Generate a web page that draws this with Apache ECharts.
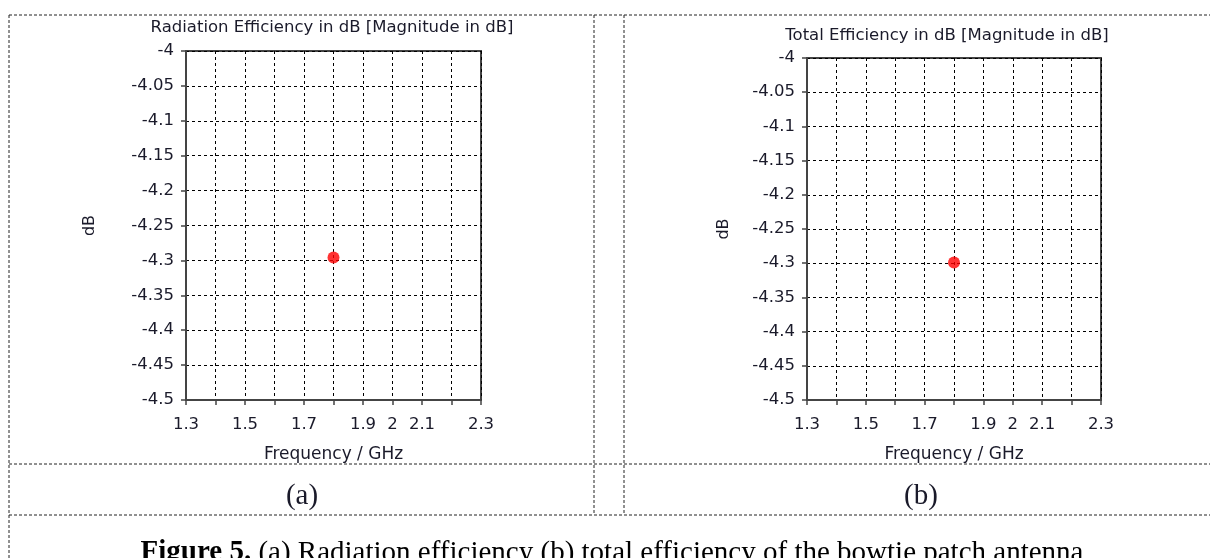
<!DOCTYPE html>
<html>
<head>
<meta charset="utf-8">
<script src="https://cdn.jsdelivr.net/npm/echarts@6/dist/echarts.min.js"></script>
<style>
html,body{margin:0;padding:0;background:#fff;}
#chart{width:1210px;height:558px;}
</style>
</head>
<body>
<div id="chart"></div>
<script>
// ---- data ----
const freqA = [1.8];
const radEffA = [-4.296];
const freqB = [1.8];
const totEffB = [-4.299];
const xTickLabels = ['1.3', '1.5', '1.7', '1.9', '2', '2.1', '2.3'];
const titleA = 'Radiation Efficiency in dB [Magnitude in dB]';
const titleB = 'Total Efficiency in dB [Magnitude in dB]';
const xName = 'Frequency / GHz';
const yName = 'dB';
const subA = '(a)';
const subB = '(b)';
const captionBold = 'Figure 5.';
const captionRest = ' (a) Radiation efficiency (b) total efficiency of the bowtie patch antenna';

const FONT = 'DejaVu Sans';
const TXT = '#1a1a2a';

function xAxisCfg(idx) {
  return {
    type: 'value', gridIndex: idx, min: 1.3, max: 2.3, interval: 0.1,
    name: xName, nameLocation: 'middle', nameGap: 46,
    nameTextStyle: { fontFamily: FONT, fontSize: 17, color: TXT },
    axisLine: { show: true, onZero: false, lineStyle: { color: '#444', width: 2 } },
    axisTick: { show: true, length: 5, lineStyle: { color: '#444', width: 1.5 } },
    axisLabel: {
      fontFamily: FONT, fontSize: 16.5, color: TXT, margin: 16, showMinLabel: true, showMaxLabel: true,
      formatter: function (v) {
        const s = String(Math.round(v * 10) / 10);
        return xTickLabels.indexOf(s) >= 0 ? s : '';
      }
    },
    splitLine: { show: true, lineStyle: { color: '#000', width: 1, type: [3, 3] } }
  };
}
function yAxisCfg(idx, gap) {
  return {
    type: 'value', gridIndex: idx, min: -4.5, max: -4, interval: 0.05,
    name: yName, nameLocation: 'middle', nameGap: gap, nameRotate: 90,
    nameTextStyle: { fontFamily: FONT, fontSize: 16, color: TXT },
    axisLine: { show: true, onZero: false, lineStyle: { color: '#444', width: 2 } },
    axisTick: { show: true, length: 5, lineStyle: { color: '#444', width: 1.5 } },
    axisLabel: {
      fontFamily: FONT, fontSize: 16.5, color: TXT, margin: 12,
      formatter: function (v) { return String(Math.round(v * 100) / 100); }
    },
    splitLine: { show: true, lineStyle: { color: '#000', width: 1, type: [3, 3] } }
  };
}

function dline(x1, y1, x2, y2) {
  return { type: 'line', silent: true, shape: { x1: x1, y1: y1, x2: x2, y2: y2 },
    style: { stroke: '#222', lineWidth: 1, lineDash: [3, 2] } };
}
function txt(x, y, t, font, size) {
  return { type: 'text', x: x, y: y, silent: true,
    style: { text: t, fontFamily: font, fontSize: size, fill: TXT, align: 'center', verticalAlign: 'middle' } };
}

const chart = echarts.init(document.getElementById('chart'), null, { renderer: 'canvas' });
chart.setOption({
  animation: false,
  backgroundColor: '#fff',
  grid: [
    { left: 186, top: 51, width: 295, height: 349, show: true, borderColor: '#444', borderWidth: 2, backgroundColor: 'transparent' },
    { left: 807, top: 58, width: 294, height: 342, show: true, borderColor: '#444', borderWidth: 2, backgroundColor: 'transparent' }
  ],
  xAxis: [xAxisCfg(0), xAxisCfg(1)],
  yAxis: [yAxisCfg(0, 88), yAxisCfg(1, 75)],
  series: [
    { type: 'scatter', xAxisIndex: 0, yAxisIndex: 0, symbolSize: 12, itemStyle: { color: '#ff0000' },
      data: freqA.map((f, i) => [f, radEffA[i]]) },
    { type: 'scatter', xAxisIndex: 1, yAxisIndex: 1, symbolSize: 12, itemStyle: { color: '#ff0000' },
      data: freqB.map((f, i) => [f, totEffB[i]]) }
  ],
  graphic: [
    dline(9, 15, 1210, 15),
    dline(9, 15, 9, 558),
    dline(594, 15, 594, 515),
    dline(624, 15, 624, 515),
    dline(9, 464, 1210, 464),
    dline(9, 515, 1210, 515),
    txt(332, 28, titleA, FONT, 16.5),
    txt(947, 36, titleB, FONT, 16.5),
    txt(302, 496, subA, 'Liberation Serif', 29),
    txt(921, 496, subB, 'Liberation Serif', 29),
    { type: 'text', x: 612, y: 553, silent: true,
      style: { text: '{b|' + captionBold + '}' + captionRest, fontFamily: 'Liberation Serif', fontSize: 29, fill: '#000',
        align: 'center', verticalAlign: 'middle',
        rich: { b: { fontFamily: 'Liberation Serif', fontSize: 29, fontWeight: 'bold', fill: '#000' } } } }
  ]
});
</script>
</body>
</html>
